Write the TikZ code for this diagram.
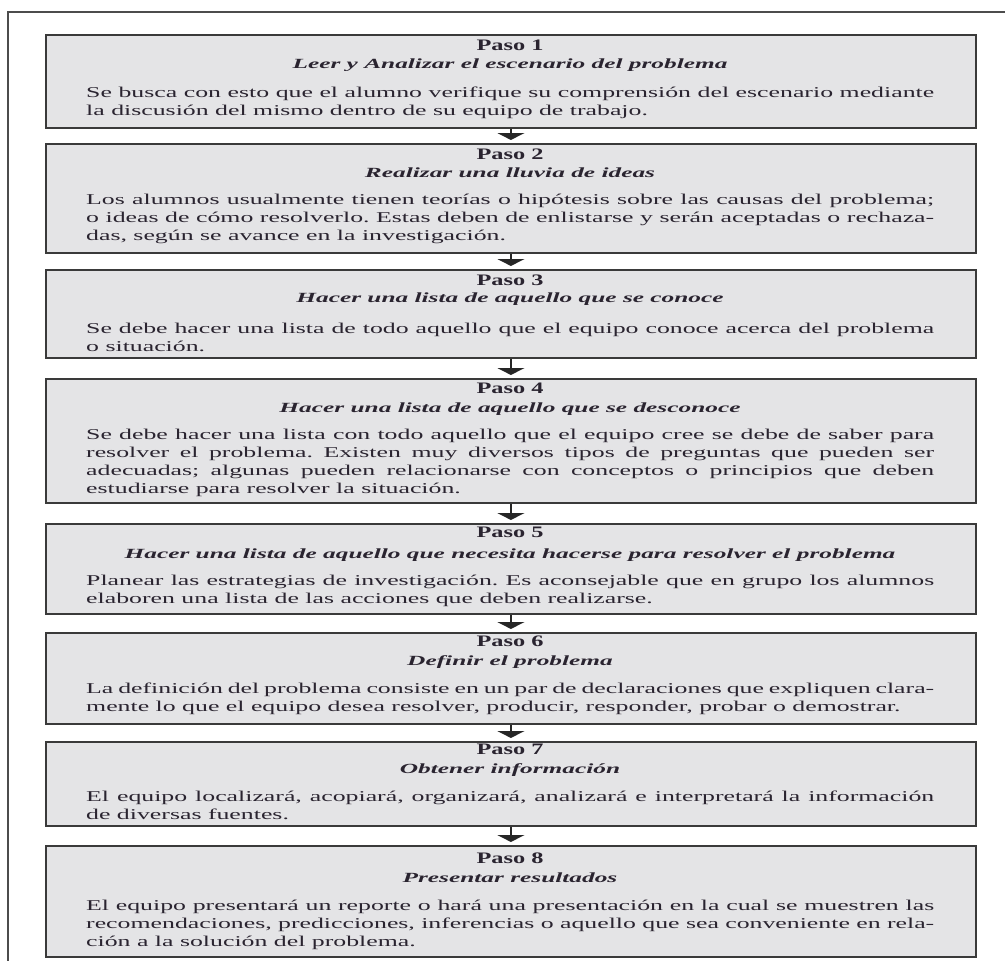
\documentclass[tikz,border=0pt]{standalone}
\usepackage{fontspec}
\setmainfont{Liberation Serif}[FakeStretch=1.72]
\newfontfamily\titlefam{Liberation Serif}[FakeStretch=1.81]
\newfontfamily\pasofam{Liberation Serif}[FakeStretch=1.52]
\usetikzlibrary{arrows.meta}
\definecolor{boxfill}{HTML}{E4E4E6}
\definecolor{boxline}{HTML}{3A3A3A}
\definecolor{ink}{HTML}{2A2430}
\frenchspacing
\newcommand\JL[1]{\hbox to 848pt{#1}}
\newcommand\LL[1]{\hbox{#1}}
\tikzset{
  stepbox/.style={draw=boxline, fill=boxfill, line width=1.8pt, rectangle, anchor=north west, minimum width=930pt, inner sep=0pt},
  pasolbl/.style={anchor=base, inner sep=0pt, text=ink, font=\pasofam\fontsize{16}{18}\selectfont\bfseries},
  titlelbl/.style={anchor=base, inner sep=0pt, text=ink, font=\titlefam\fontsize{14}{16}\selectfont\bfseries\itshape},
  bodytxt/.style={anchor=base west, inner sep=0pt, text=ink, font=\fontsize{15}{18}\selectfont\frenchspacing},
  arr/.style={line width=2pt, draw=black!85, -{Triangle[width=27pt,length=7pt]}, shorten >=3pt},
  frame/.style={draw=black!70, line width=1.2pt}
}
\begin{document}
\begin{tikzpicture}[x=1pt,y=-1pt]
\useasboundingbox (0,0) rectangle (1005,961);
\draw[frame] (8,961) -- (8,12) -- (1005,12);

% boxes
\node[stepbox, minimum height=93pt]  (b1) at (45,34) {};
\node[stepbox, minimum height=109pt] (b2) at (45,143) {};
\node[stepbox, minimum height=88pt]  (b3) at (45,269) {};
\node[stepbox, minimum height=124pt] (b4) at (45,378) {};
\node[stepbox, minimum height=90pt]  (b5) at (45,523) {};
\node[stepbox, minimum height=91pt]  (b6) at (45,632) {};
\node[stepbox, minimum height=84pt]  (b7) at (45,741) {};
\node[stepbox, minimum height=111pt] (b8) at (45,845) {};

% connectors
\draw[arr] (b1.south) -- (b2.north);
\draw[arr] (b2.south) -- (b3.north);
\draw[arr] (b3.south) -- (b4.north);
\draw[arr] (b4.south) -- (b5.north);
\draw[arr] (b5.south) -- (b6.north);
\draw[arr] (b6.south) -- (b7.north);
\draw[arr] (b7.south) -- (b8.north);

% step 1
\node[pasolbl] (p1) at (510,50) {Paso 1};
\node[titlelbl] (t1) at (510,68) {Leer y Analizar el escenario del problema};
\node[bodytxt] (d1) at (86,97) {\vtop{%
\JL{Se busca con esto que el alumno verifique su comprensión del escenario mediante}
\LL{la discusión del mismo dentro de su equipo de trabajo.}}};

% step 2
\node[pasolbl] (p2) at (510,159) {Paso 2};
\node[titlelbl] (t2) at (510,177) {Realizar una lluvia de ideas};
\node[bodytxt] (d2) at (86,204) {\vtop{%
\JL{Los alumnos usualmente tienen teorías o hipótesis sobre las causas del problema;}
\JL{o ideas de cómo resolverlo. Estas deben de enlistarse y serán aceptadas o rechaza-}
\LL{das, según se avance en la investigación.}}};

% step 3
\node[pasolbl] (p3) at (510,285) {Paso 3};
\node[titlelbl] (t3) at (510,302) {Hacer una lista de aquello que se conoce};
\node[bodytxt] (d3) at (86,333) {\vtop{%
\JL{Se debe hacer una lista de todo aquello que el equipo conoce acerca del problema}
\LL{o situación.}}};

% step 4
\node[pasolbl] (p4) at (510,393) {Paso 4};
\node[titlelbl] (t4) at (510,412) {Hacer una lista de aquello que se desconoce};
\node[bodytxt] (d4) at (86,439) {\vtop{%
\JL{Se debe hacer una lista con todo aquello que el equipo cree se debe de saber para}
\JL{resolver el problema. Existen muy diversos tipos de preguntas que pueden ser}
\JL{adecuadas; algunas pueden relacionarse con conceptos o principios que deben}
\LL{estudiarse para resolver la situación.}}};

% step 5
\node[pasolbl] (p5) at (510,537) {Paso 5};
\node[titlelbl] (t5) at (510,558) {Hacer una lista de aquello que necesita hacerse para resolver el problema};
\node[bodytxt] (d5) at (86,585) {\vtop{%
\JL{Planear las estrategias de investigación. Es aconsejable que en grupo los alumnos}
\LL{elaboren una lista de las acciones que deben realizarse.}}};

% step 6
\node[pasolbl] (p6) at (510,646) {Paso 6};
\node[titlelbl] (t6) at (510,665) {Definir el problema};
\node[bodytxt] (d6) at (86,693) {\vtop{%
\JL{La definición del problema consiste en un par de declaraciones que expliquen clara-}
\LL{mente lo que el equipo desea resolver, producir, responder, probar o demostrar.}}};

% step 7
\node[pasolbl] (p7) at (510,754) {Paso 7};
\node[titlelbl] (t7) at (510,773) {Obtener información};
\node[bodytxt] (d7) at (86,801) {\vtop{%
\JL{El equipo localizará, acopiará, organizará, analizará e interpretará la información}
\LL{de diversas fuentes.}}};

% step 8
\node[pasolbl] (p8) at (510,863) {Paso 8};
\node[titlelbl] (t8) at (510,882) {Presentar resultados};
\node[bodytxt] (d8) at (86,910) {\vtop{%
\JL{El equipo presentará un reporte o hará una presentación en la cual se muestren las}
\JL{recomendaciones, predicciones, inferencias o aquello que sea conveniente en rela-}
\LL{ción a la solución del problema.}}};
\end{tikzpicture}
\end{document}
